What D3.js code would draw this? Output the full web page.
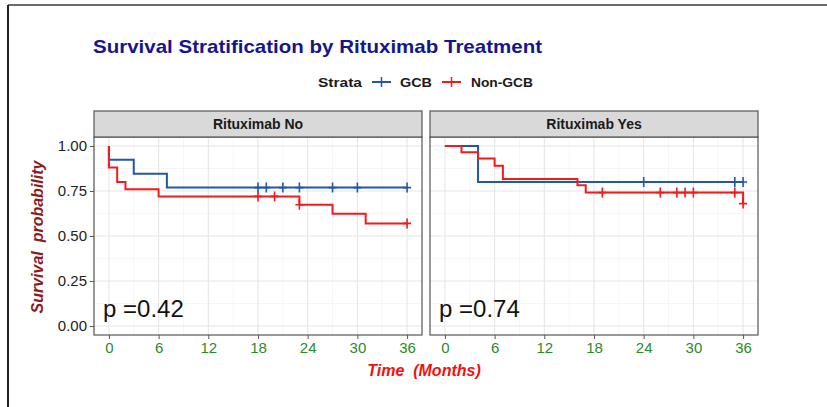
<!DOCTYPE html>
<html>
<head>
<meta charset="utf-8">
<script src="https://cdn.jsdelivr.net/npm/d3@7"></script>
<style>
  body { margin: 0; background: #fff; }
  svg { display: block; font-family: "Liberation Sans", Arial, sans-serif; }
</style>
</head>
<body>
<div id="chart"></div>
<script>
  // values
  var panels = ['Rituximab No', 'Rituximab Yes'];
  var pValues = ['p =0.42', 'p =0.74'];
  var monthTicks = [0, 6, 12, 18, 24, 30, 36];
  var probTicks = [0, 0.25, 0.5, 0.75, 1];
  var strata = ['GCB', 'Non-GCB'];

  // Rituximab No
  var noGcbTime = [0, 0, 3, 7];
  var noGcbSurv = [1, 0.923, 0.846, 0.769];
  var noGcbCensor = [18, 19, 21, 23, 27, 30, 36];
  var noNonTime = [0, 0, 1, 2, 6, 23, 27, 31];
  var noNonSurv = [1, 0.88, 0.80, 0.76, 0.72, 0.674, 0.624, 0.57];
  var noNonCensor = [18, 20, 23, 36];

  // Rituximab Yes
  var yesGcbTime = [0, 4];
  var yesGcbSurv = [1, 0.80];
  var yesGcbCensor = [24, 35, 36];
  var yesNonTime = [0, 2, 4, 6, 7, 16, 17, 36];
  var yesNonSurv = [1, 0.965, 0.93, 0.89, 0.816, 0.782, 0.741, 0.68];
  var yesNonCensor = [19, 26, 28, 29, 30, 35, 36];

  var curves = [
    [ {time: noGcbTime, surv: noGcbSurv, censor: noGcbCensor},
      {time: noNonTime, surv: noNonSurv, censor: noNonCensor} ],
    [ {time: yesGcbTime, surv: yesGcbSurv, censor: yesGcbCensor},
      {time: yesNonTime, surv: yesNonSurv, censor: yesNonCensor} ]
  ];

  var colors = ['#2258a5', '#f31a1a'];
  var width = 827, height = 407;

  var svg = d3.select('#chart').append('svg')
      .attr('width', width).attr('height', height);

  // outer frame
  svg.append('line').attr('x1', 8).attr('x2', width).attr('y1', 5).attr('y2', 5)
      .attr('stroke', '#6b6b6b').attr('stroke-width', 2);
  svg.append('line').attr('x1', 8).attr('x2', 8).attr('y1', 5).attr('y2', height)
      .attr('stroke', '#222').attr('stroke-width', 2);

  // title
  svg.append('text')
      .attr('x', 93).attr('y', 53)
      .attr('textLength', 449).attr('lengthAdjust', 'spacingAndGlyphs')
      .style('font-size', '19px').style('font-weight', 'bold').style('fill', '#16168c')
      .text('Survival Stratification by Rituximab Treatment');

  // legend
  var leg = svg.append('g').style('font-size', '13px').style('font-weight', 'bold').style('fill', '#1a1a1a');
  leg.append('text').attr('x', 318).attr('y', 87).attr('textLength', 44)
      .attr('lengthAdjust', 'spacingAndGlyphs').text('Strata');
  var legX = [372, 442];
  var legTextX = [400, 471];
  var legTextW = [32, 62];
  strata.forEach(function(s, i) {
    leg.append('line').attr('x1', legX[i]).attr('x2', legX[i] + 19)
        .attr('y1', 82).attr('y2', 82).attr('stroke', colors[i]).attr('stroke-width', 2);
    leg.append('line').attr('x1', legX[i] + 9.5).attr('x2', legX[i] + 9.5)
        .attr('y1', 77).attr('y2', 87).attr('stroke', colors[i]).attr('stroke-width', 1.5);
    leg.append('text').attr('x', legTextX[i]).attr('y', 87)
        .attr('textLength', legTextW[i]).attr('lengthAdjust', 'spacingAndGlyphs').text(s);
  });

  var panelX = [[94, 422], [430, 758]];
  var stripTop = 111, plotTop = 137, plotBottom = 335;

  var y = d3.scaleLinear().domain([-0.05, 1.05]).range([plotBottom, plotTop]);

  panels.forEach(function(name, p) {
    var x = d3.scaleLinear().domain([-1.8, 37.8]).range(panelX[p]);
    var g = svg.append('g');
    var x0 = panelX[p][0], x1 = panelX[p][1];

    // grid
    var minorX = d3.range(3, 37, 6);
    var minorY = [0.125, 0.375, 0.625, 0.875];
    g.selectAll('.mx').data(minorX).enter().append('line')
        .attr('x1', x).attr('x2', x).attr('y1', plotTop).attr('y2', plotBottom)
        .attr('stroke', '#f0f0f0').attr('stroke-width', 0.6);
    g.selectAll('.my').data(minorY).enter().append('line')
        .attr('x1', x0).attr('x2', x1).attr('y1', y).attr('y2', y)
        .attr('stroke', '#f0f0f0').attr('stroke-width', 0.6);
    g.selectAll('.gx').data(monthTicks).enter().append('line')
        .attr('x1', x).attr('x2', x).attr('y1', plotTop).attr('y2', plotBottom)
        .attr('stroke', '#e6e6e6').attr('stroke-width', 1.1);
    g.selectAll('.gy').data(probTicks).enter().append('line')
        .attr('x1', x0).attr('x2', x1).attr('y1', y).attr('y2', y)
        .attr('stroke', '#e6e6e6').attr('stroke-width', 1.1);

    // curves
    var line = d3.line().curve(d3.curveStepAfter)
        .x(function(d) { return x(d[0]); })
        .y(function(d) { return y(d[1]); });

    curves[p].forEach(function(c, i) {
      var pts = c.time.map(function(t, k) { return [t, c.surv[k]]; });
      var last = d3.max(c.censor.concat(c.time));
      pts.push([last, c.surv[c.surv.length - 1]]);
      g.append('path').attr('d', line(pts)).attr('fill', 'none')
          .attr('stroke', colors[i]).attr('stroke-width', 2);

      var survAt = function(t) {
        var v = c.surv[0];
        c.time.forEach(function(tt, k) { if (tt <= t) v = c.surv[k]; });
        return v;
      };
      c.censor.forEach(function(t) {
        var cx = x(t), cy = y(survAt(t));
        g.append('path')
            .attr('d', 'M' + (cx - 4) + ',' + cy + 'H' + (cx + 4) + 'M' + cx + ',' + (cy - 5) + 'V' + (cy + 5))
            .attr('stroke', colors[i]).attr('stroke-width', 1.6).attr('fill', 'none');
      });
    });

    // p-value
    g.append('text').attr('x', x0 + 9).attr('y', 317)
        .style('font-size', '24px').style('fill', '#111').text(pValues[p]);

    // panel border
    g.append('rect').attr('x', x0).attr('y', plotTop).attr('width', x1 - x0)
        .attr('height', plotBottom - plotTop).attr('fill', 'none')
        .attr('stroke', '#555').attr('stroke-width', 1.2);

    // strip
    g.append('rect').attr('x', x0).attr('y', stripTop).attr('width', x1 - x0)
        .attr('height', plotTop - stripTop).attr('fill', '#d9d9d9')
        .attr('stroke', '#555').attr('stroke-width', 1.2);
    g.append('text').attr('x', (x0 + x1) / 2).attr('y', 129).attr('text-anchor', 'middle')
        .style('font-size', '14px').style('font-weight', 'bold').style('fill', '#1a1a1a')
        .text(name);

    // x axis
    var xa = g.append('g').attr('transform', 'translate(0,' + plotBottom + ')')
        .call(d3.axisBottom(x).tickValues(monthTicks).tickSize(4).tickPadding(3));
    xa.select('.domain').remove();
    xa.selectAll('line').attr('stroke', '#555');
    xa.selectAll('text').style('font-size', '15px').style('fill', '#2b8a2b')
        .style('font-family', '"Liberation Sans", Arial, sans-serif');

    if (p === 0) {
      var ya = g.append('g').attr('transform', 'translate(' + x0 + ',0)')
          .call(d3.axisLeft(y).tickValues(probTicks).tickFormat(d3.format('.2f')).tickSize(4).tickPadding(3));
      ya.select('.domain').remove();
      ya.selectAll('line').attr('stroke', '#555');
      ya.selectAll('text').style('font-size', '15px').style('fill', '#222')
          .style('font-family', '"Liberation Sans", Arial, sans-serif');
    }
  });

  // axis titles
  svg.append('text').attr('x', 424).attr('y', 376).attr('text-anchor', 'middle')
      .style('font-size', '16px').style('font-weight', 'bold').style('font-style', 'italic')
      .style('fill', '#f21010').style('white-space', 'pre').text('Time  (Months)');
  svg.append('text').attr('transform', 'translate(43,237) rotate(-90)').attr('text-anchor', 'middle')
      .style('font-size', '16px').style('font-weight', 'bold').style('font-style', 'italic')
      .style('fill', '#8b1a1a').style('white-space', 'pre').text('Survival  probability');
</script>
</body>
</html>
